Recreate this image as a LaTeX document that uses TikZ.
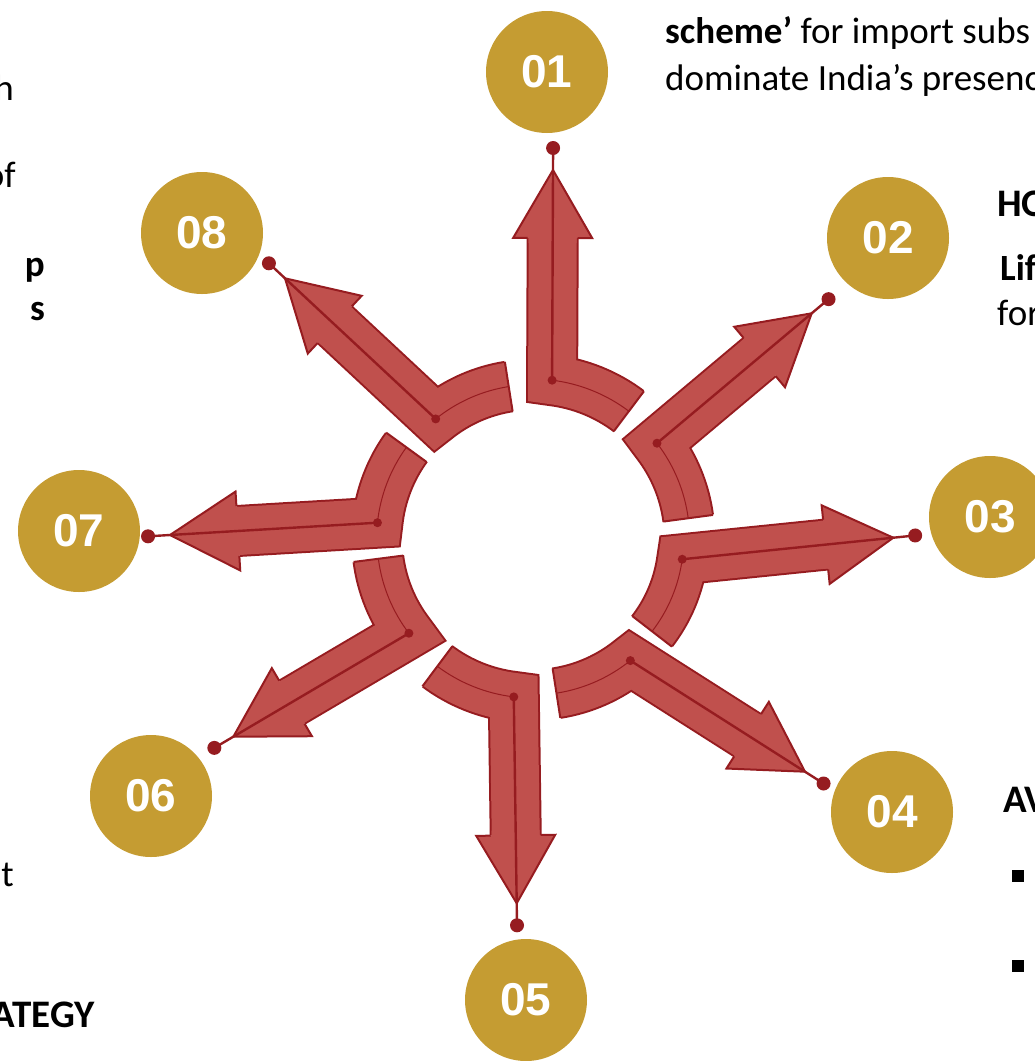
\documentclass[tikz,border=0pt]{standalone}
\usepackage{fontspec}
\setmainfont{Carlito}
\newfontfamily\chiffres{Liberation Sans}
\usetikzlibrary{calc}
\definecolor{rougefleche}{RGB}{192,80,77}
\definecolor{rougebord}{RGB}{150,28,32}
\definecolor{orpastille}{RGB}{197,156,50}
\begin{document}
\begin{tikzpicture}[x=1pt,y=-1pt,
	pastille/.style={circle,fill=orpastille,minimum size=122pt,inner sep=0pt,text=white,font=\chiffres\bfseries\fontsize{46}{46}\selectfont},
	texte/.style={anchor=base west,inner sep=0pt,font=\fontsize{37}{45}\selectfont},
	titre/.style={anchor=base west,inner sep=0pt,font=\bfseries\fontsize{39}{45}\selectfont}]
	\useasboundingbox (0,0) rectangle (1035,1061);
	\clip (0,0) rectangle (1035,1061);
	\coordinate (centre) at (532.6,539);
	% les huit flèches : angle du coude, rayon, pointe
	\foreach \n/\a/\r/\tx/\ty in {01/-83/160/553/170,02/-37.6/157/811.7/313.3,03/7.7/151/893.3/537.7,04/51.2/156/805/771.7,05/96.8/159/516.7/903.3,06/142.7/155.5/233.3/736.7,07/186/156/170/535,08/231.1/154.3/285/278.3}{
		\coordinate (b\n) at ($(centre)+(\a:\r)$);
		\coordinate (t\n) at (\tx,\ty);
		\coordinate (h\n) at ($(t\n)!68pt!(b\n)$);
		\coordinate (k\n) at ($(h\n)!5pt!(b\n)$);
		\coordinate (p\n) at ($(t\n)!-22pt!(b\n)$);
		\draw[rougebord,line width=2pt,double=rougefleche,double distance=48pt]
			($(centre)+(\a+30:\r)$) arc[start angle=\a+30,end angle=\a,radius=\r] -- (h\n);
		\draw[rougebord,line width=2pt] ($(centre)+(\a+30:\r-25)$) -- ($(centre)+(\a+30:\r+25)$);
		\fill[rougefleche] ($(k\n)!24pt!90:(t\n)$) -- ($(h\n)!24pt!90:(t\n)$) -- ($(h\n)!39.5pt!90:(t\n)$) -- (t\n)
			-- ($(h\n)!39.5pt!-90:(t\n)$) -- ($(h\n)!24pt!-90:(t\n)$) -- ($(k\n)!24pt!-90:(t\n)$) -- cycle;
		\draw[rougebord,line width=2pt] ($(h\n)!25pt!90:(t\n)$) -- ($(h\n)!39.5pt!90:(t\n)$) -- (t\n)
			-- ($(h\n)!39.5pt!-90:(t\n)$) -- ($(h\n)!25pt!-90:(t\n)$);
		\draw[rougebord,line width=1pt] ($(centre)+(\a+30:\r)$) arc[start angle=\a+30,end angle=\a,radius=\r];
		\draw[rougebord,line width=2.4pt] (b\n) -- (p\n);
		\fill[rougebord] (b\n) circle[radius=4.5pt];
		\fill[rougebord] (p\n) circle[radius=7pt];
	}
	% pastilles
	\foreach \n/\x/\y in {01/547/72,02/888/238,03/990/517,04/892/812,05/526/1000,06/151/796,07/79/531,08/202/233}
		\node[pastille] (c\n) at (\x,\y) {\n};
	% textes autour
	\node[texte] (haut1) at (665,43) {\textbf{scheme’} for import subs};
	\node[texte] (haut2) at (665,90) {dominate India’s presenc};
	\node[titre] (droite1) at (997,216) {HO};
	\node[texte] (droite2) at (1000,280) {\textbf{Lif}};
	\node[texte] (droite3) at (997,325) {for};
	\node[titre] (droite4) at (1003,812) {AV};
	\fill (1012,870) rectangle (1024,882);
	\fill (1012,960) rectangle (1024,972);
	\node[texte,anchor=base east] (gauche1) at (14,100) {h};
	\node[texte,anchor=base east] (gauche2) at (16,187) {of};
	\node[texte,anchor=base east] (gauche3) at (45,276) {\textbf{p}};
	\node[texte,anchor=base east] (gauche4) at (45,320) {\textbf{s}};
	\node[texte,anchor=base east] (gauche5) at (14,886) {t};
	\node[titre,anchor=base east] (gauche6) at (95,1027) {ATEGY};
\end{tikzpicture}
\end{document}
